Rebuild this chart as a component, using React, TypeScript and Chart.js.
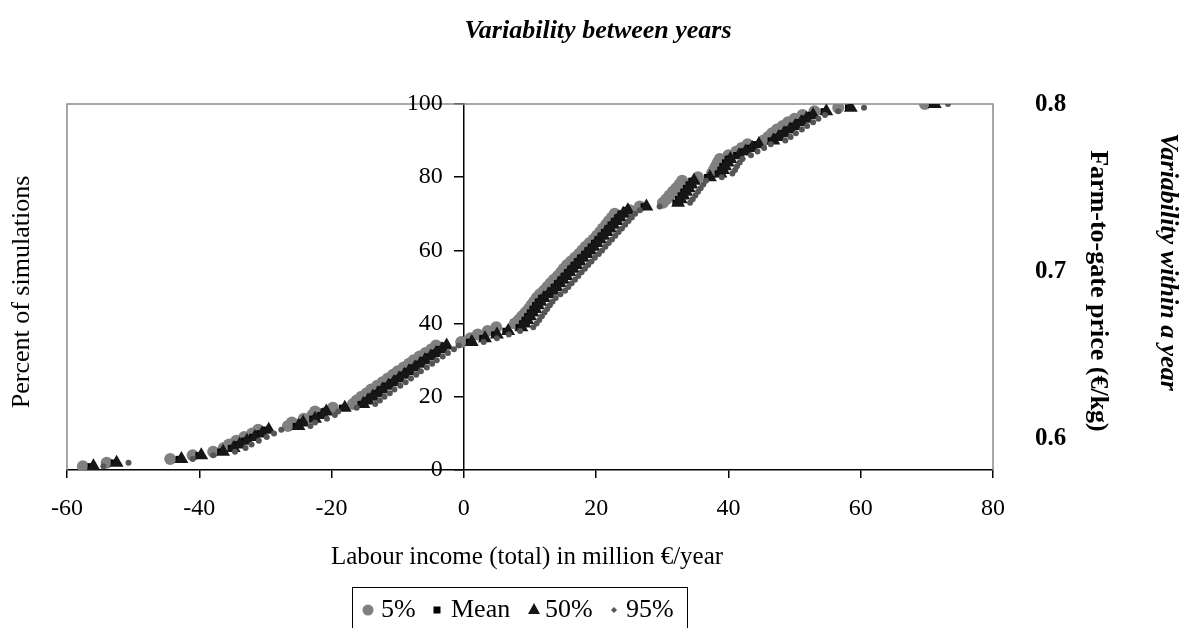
import { useEffect, useRef } from "react";
import { Chart, registerables } from "chart.js";

Chart.register(...registerables);

// Cumulative share of simulation runs (percent), shared by every series
const percentOfRuns = [
  1, 2, 3, 4, 5, 6, 7, 8, 9, 10,
  11, 12, 13, 14, 15, 16, 17, 18, 19, 20,
  21, 22, 23, 24, 25, 26, 27, 28, 29, 30,
  31, 32, 33, 34, 35, 36, 37, 38, 39, 40,
  41, 42, 43, 44, 45, 46, 47, 48, 49, 50,
  51, 52, 53, 54, 55, 56, 57, 58, 59, 60,
  61, 62, 63, 64, 65, 66, 67, 68, 69, 70,
  71, 72, 73, 74, 75, 76, 77, 78, 79, 80,
  81, 82, 83, 84, 85, 86, 87, 88, 89, 90,
  91, 92, 93, 94, 95, 96, 97, 98, 99, 100,
];

// Labour income (million EUR/year) at each cumulative percent
const income5 = [
  -57.6, -54.0, -44.4, -41.0, -37.9, -36.3, -35.5, -34.4, -33.2, -32.0,
  -31.1, -26.6, -26.0, -24.2, -22.9, -22.5, -19.8, -16.8, -16.2, -15.5,
  -14.7, -14.0, -13.1, -12.3, -11.5, -10.7, -10.0, -9.1, -8.3, -7.6,
  -6.7, -5.8, -4.9, -4.2, -0.4, 1.0, 2.1, 3.6, 4.9, 7.7,
  8.3, 8.8, 9.3, 9.8, 10.2, 10.6, 11.0, 11.5, 12.1, 12.6,
  13.1, 13.6, 14.2, 14.7, 15.1, 15.6, 16.2, 16.8, 17.4, 17.9,
  18.4, 19.0, 19.6, 20.1, 20.6, 21.0, 21.5, 21.9, 22.4, 22.8,
  25.1, 26.6, 30.1, 30.6, 31.1, 31.6, 32.1, 32.6, 33.0, 35.4,
  37.5, 37.8, 38.1, 38.4, 38.7, 40.0, 41.2, 42.0, 42.9, 45.3,
  46.0, 46.6, 47.3, 48.2, 49.0, 50.0, 51.2, 53.0, 56.6, 69.7,
];

const incomeMean = [
  -56.4, -52.9, -43.1, -40.1, -36.8, -35.2, -34.3, -33.2, -32.0, -30.9,
  -29.9, -25.4, -24.7, -22.9, -21.7, -21.2, -18.4, -15.6, -14.9, -14.2,
  -13.4, -12.7, -11.8, -11.0, -10.2, -9.4, -8.7, -7.8, -7.0, -6.3,
  -5.4, -4.6, -3.7, -3.0, 0.8, 2.8, 4.6, 6.3, 8.3, 8.8,
  9.2, 9.6, 10.0, 10.4, 10.8, 11.2, 11.7, 12.4, 13.1, 13.6,
  14.1, 14.6, 15.1, 15.6, 16.1, 16.6, 17.1, 17.6, 18.2, 18.7,
  19.2, 19.7, 20.2, 20.7, 21.2, 21.7, 22.2, 22.7, 23.2, 23.7,
  24.4, 27.2, 32.0, 32.4, 32.8, 33.2, 33.6, 34.0, 34.4, 36.8,
  38.4, 38.8, 39.1, 39.5, 39.9, 41.2, 42.2, 43.2, 44.2, 46.4,
  47.2, 48.0, 48.9, 49.7, 50.6, 51.4, 52.4, 54.4, 58.1, 70.8,
];

const income50 = [
  -56.0, -52.5, -42.7, -39.7, -36.4, -34.8, -33.9, -32.8, -31.6, -30.5,
  -29.5, -25.0, -24.3, -22.5, -21.3, -20.8, -18.0, -15.2, -14.5, -13.8,
  -13.0, -12.3, -11.4, -10.6, -9.8, -9.0, -8.3, -7.4, -6.6, -5.9,
  -5.0, -4.2, -3.3, -2.6, 1.2, 3.2, 5.0, 6.7, 8.7, 9.2,
  9.6, 10.0, 10.4, 10.8, 11.2, 11.6, 12.1, 12.8, 13.5, 14.0,
  14.5, 15.0, 15.5, 16.0, 16.5, 17.0, 17.5, 18.0, 18.6, 19.1,
  19.6, 20.1, 20.6, 21.1, 21.6, 22.1, 22.6, 23.1, 23.6, 24.1,
  24.8, 27.6, 32.4, 32.8, 33.2, 33.6, 34.0, 34.4, 34.8, 37.2,
  38.8, 39.2, 39.5, 39.9, 40.3, 41.6, 42.6, 43.6, 44.6, 46.8,
  47.6, 48.4, 49.3, 50.1, 51.0, 51.8, 52.8, 54.8, 58.5, 71.2,
];

const income95 = [
  -54.5, -50.7, -41.0, -37.9, -34.6, -33.0, -32.1, -31.0, -29.8, -28.7,
  -27.6, -23.2, -22.5, -20.7, -19.5, -19.0, -16.2, -13.4, -12.7, -12.0,
  -11.2, -10.5, -9.6, -8.8, -8.0, -7.2, -6.5, -5.6, -4.8, -4.1,
  -3.2, -2.4, -1.5, -0.8, 3.0, 5.0, 6.8, 8.5, 10.5, 11.0,
  11.4, 11.8, 12.2, 12.6, 13.0, 13.4, 13.9, 14.6, 15.3, 15.8,
  16.3, 16.8, 17.3, 17.8, 18.3, 18.8, 19.3, 19.8, 20.4, 20.9,
  21.4, 21.9, 22.4, 22.9, 23.4, 23.9, 24.4, 24.9, 25.4, 25.9,
  26.6, 29.6, 34.2, 34.6, 35.0, 35.4, 35.8, 36.2, 36.6, 39.0,
  40.6, 41.0, 41.3, 41.7, 42.1, 43.4, 44.4, 45.4, 46.4, 48.6,
  49.4, 50.2, 51.1, 51.9, 52.8, 53.6, 54.6, 56.6, 60.5, 73.2,
];

const seriesNames = ["5%", "Mean", "50%", "95%"];
const incomeTicks = [-60, -40, -20, 0, 20, 40, 60, 80];
const percentTicks = [0, 20, 40, 60, 80, 100];
const priceTicks = [0.6, 0.7, 0.8];

const SERIF = '"Liberation Serif", "Times New Roman", serif';

const CIRCLE_GREY = "#808080";
const TRIANGLE_BLACK = "#161616";
const DOT_GREY = "#555555";

const toPoints = (xs: number[]) => percentOfRuns.map((p, i) => ({ x: xs[i], y: p }));

function drawText(
  ctx: CanvasRenderingContext2D,
  str: string,
  x: number,
  y: number,
  font: string,
  rotation = 0,
  align: CanvasTextAlign = "center"
) {
  ctx.save();
  ctx.translate(x, y);
  ctx.rotate(rotation);
  ctx.font = font;
  ctx.fillStyle = "#000";
  ctx.textAlign = align;
  ctx.textBaseline = "middle";
  ctx.fillText(str, 0, 0);
  ctx.restore();
}

// Plot frame, percent labels beside the crossing axis, titles and the boxed legend
const decorations = {
  id: "decorations",
  beforeDatasetsDraw(chart: any) {
    const { ctx, chartArea: a, scales } = chart;
    ctx.save();
    ctx.strokeStyle = "#8a8a8a";
    ctx.lineWidth = 1.5;
    ctx.beginPath();
    ctx.moveTo(a.left, a.bottom);
    ctx.lineTo(a.left, a.top);
    ctx.lineTo(a.right, a.top);
    ctx.lineTo(a.right, a.bottom);
    ctx.stroke();
    ctx.restore();

    // percent labels sit to the left of the y axis, which crosses at income 0
    const axisX = scales.x.getPixelForValue(0);
    percentTicks.forEach((v) => {
      drawText(ctx, String(v), axisX - 21, scales.y.getPixelForValue(v), `24px ${SERIF}`, 0, "right");
    });
  },
  afterDraw(chart: any) {
    const { ctx } = chart;
    drawText(ctx, "Variability between years", 598, 31, `italic bold 26px ${SERIF}`);
    drawText(ctx, "Percent of simulations", 22, 292, `26px ${SERIF}`, -Math.PI / 2);
    drawText(ctx, "Labour income (total) in million €/year", 527, 557, `25px ${SERIF}`);
    drawText(ctx, "Farm-to-gate price (€/kg)", 1098, 291, `bold 26px ${SERIF}`, Math.PI / 2);
    drawText(ctx, "Variability within a year", 1168, 262, `italic bold 26px ${SERIF}`, Math.PI / 2);

    // legend
    ctx.save();
    ctx.strokeStyle = "#000";
    ctx.lineWidth = 1;
    ctx.strokeRect(352.5, 587.5, 335, 60);
    const cy = 610;
    const font = `26px ${SERIF}`;
    // 5%
    ctx.fillStyle = CIRCLE_GREY;
    ctx.beginPath();
    ctx.arc(368, cy, 5.5, 0, Math.PI * 2);
    ctx.fill();
    drawText(ctx, seriesNames[0], 381, cy, font, 0, "left");
    // Mean
    ctx.fillStyle = "#000";
    ctx.fillRect(433.5, cy - 3.5, 7, 7);
    drawText(ctx, seriesNames[1], 451, cy, font, 0, "left");
    // 50%
    ctx.fillStyle = TRIANGLE_BLACK;
    ctx.beginPath();
    ctx.moveTo(534, cy - 7);
    ctx.lineTo(540, cy + 4);
    ctx.lineTo(528, cy + 4);
    ctx.closePath();
    ctx.fill();
    drawText(ctx, seriesNames[2], 545, cy, font, 0, "left");
    // 95%
    ctx.fillStyle = DOT_GREY;
    ctx.beginPath();
    ctx.moveTo(614, cy - 3);
    ctx.lineTo(617, cy);
    ctx.lineTo(614, cy + 3);
    ctx.lineTo(611, cy);
    ctx.closePath();
    ctx.fill();
    drawText(ctx, seriesNames[3], 626, cy, font, 0, "left");
    ctx.restore();
  },
};

export default function App() {
  const canvasRef = useRef<HTMLCanvasElement | null>(null);

  useEffect(() => {
    if (!canvasRef.current) return;
    const tickFont = { family: SERIF, size: 24 };

    const chart = new Chart(canvasRef.current, {
      type: "scatter",
      data: {
        datasets: [
          {
            label: seriesNames[0],
            data: toPoints(income5),
            pointStyle: "circle",
            pointRadius: 6,
            backgroundColor: CIRCLE_GREY,
            borderWidth: 0,
            order: 4,
          },
          {
            label: seriesNames[1],
            data: toPoints(incomeMean),
            pointStyle: "rect",
            pointRadius: 4.5,
            backgroundColor: "#000",
            borderWidth: 0,
            order: 3,
          },
          {
            label: seriesNames[2],
            data: toPoints(income50),
            pointStyle: "triangle",
            pointRadius: 8,
            backgroundColor: TRIANGLE_BLACK,
            borderWidth: 0,
            order: 2,
          },
          {
            label: seriesNames[3],
            data: toPoints(income95),
            pointStyle: "circle",
            pointRadius: 3,
            backgroundColor: DOT_GREY,
            borderWidth: 0,
            order: 1,
          },
        ],
      },
      plugins: [decorations],
      options: {
        animation: false,
        responsive: false,
        events: [],
        layout: { padding: { left: 67, top: 104, right: 0, bottom: 0 } },
        plugins: {
          legend: { display: false },
          tooltip: { enabled: false },
          title: { display: false },
        },
        scales: {
          x: {
            type: "linear",
            position: "bottom",
            min: -60,
            max: 80,
            afterBuildTicks: (s: any) => {
              s.ticks = incomeTicks.map((v) => ({ value: v }));
            },
            afterFit: (s: any) => {
              s.height = 158;
            },
            ticks: {
              font: tickFont,
              color: "#000",
              padding: 16,
              maxRotation: 0,
              autoSkip: false,
            },
            grid: {
              drawOnChartArea: false,
              drawTicks: true,
              tickLength: 8,
              color: "#000",
              lineWidth: 1.5,
            },
            border: { display: true, color: "#000", width: 1.5 },
          },
          y: {
            type: "linear",
            position: { x: 0 },
            min: 0,
            max: 100,
            afterBuildTicks: (s: any) => {
              s.ticks = percentTicks.map((v) => ({ value: v }));
            },
            ticks: { display: false },
            grid: {
              drawOnChartArea: false,
              drawTicks: true,
              tickLength: 9,
              color: "#000",
              lineWidth: 1.5,
            },
            border: { display: true, color: "#000", width: 1.5 },
          },
          y2: {
            type: "linear",
            position: "right",
            min: 0.581,
            max: 0.8006,
            afterBuildTicks: (s: any) => {
              s.ticks = priceTicks.map((v) => ({ value: v }));
            },
            afterFit: (s: any) => {
              s.width = 198;
            },
            ticks: {
              font: { family: SERIF, size: 25, weight: "bold" },
              color: "#000",
              padding: 42,
              callback: (v: any) => Number(v).toFixed(1),
            },
            grid: { display: false, drawTicks: false },
            border: { display: false },
          },
        },
      },
    } as any);

    return () => chart.destroy();
  }, []);

  return (
    <div style={{ position: "absolute", left: 0, top: 0, width: 1191, height: 628, background: "#fff" }}>
      <canvas ref={canvasRef} width={1191} height={628} />
    </div>
  );
}
